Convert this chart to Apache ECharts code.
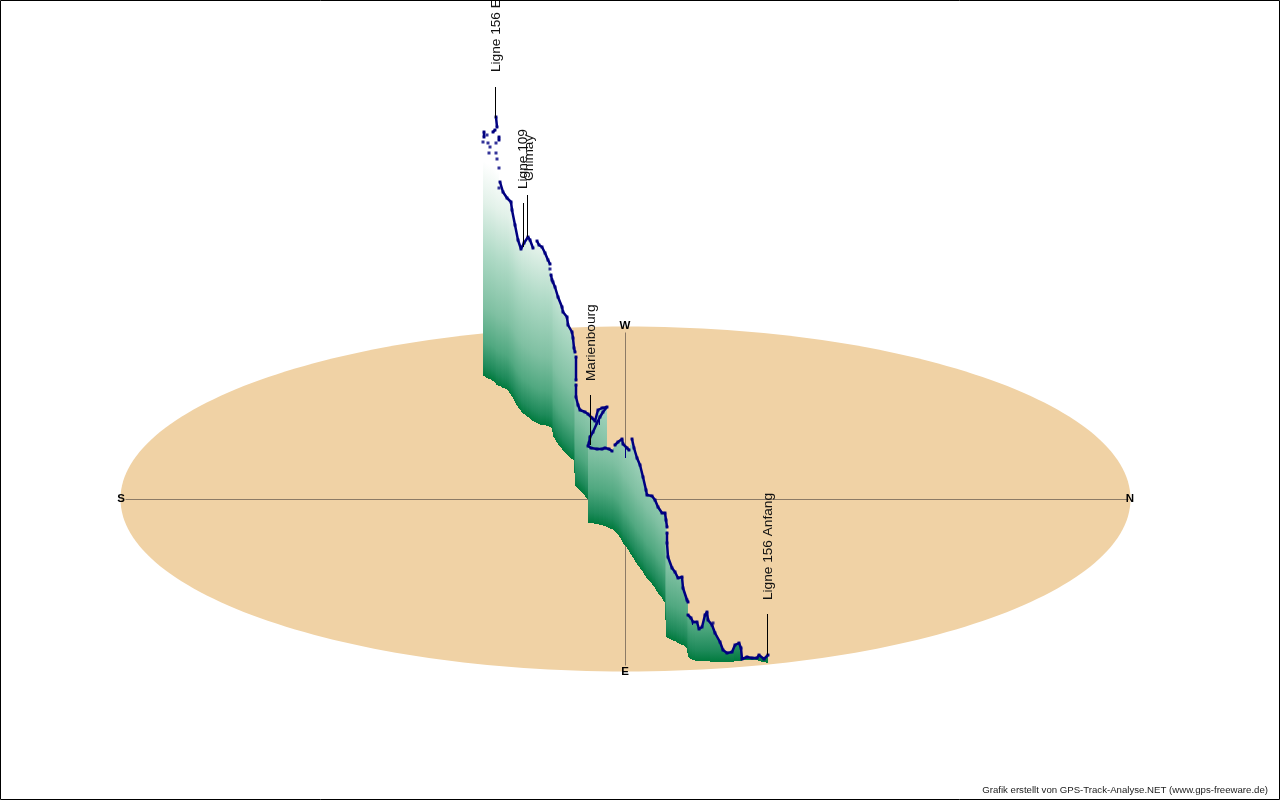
<!DOCTYPE html>
<html>
<head>
<meta charset="utf-8">
<style>html,body{margin:0;padding:0;background:#fff}#c{width:1280px;height:800px}</style>
<script src="https://cdn.jsdelivr.net/npm/echarts@6/dist/echarts.min.js"></script>
</head>
<body>
<div id="c"></div>
<script>
// Plane ellipse: centre and radii
const groundCentre = [625.5, 499];
const groundRadii = [505, 172.5];
// Compass axes and letters
const compassLines = [[125, 499, 1128, 499], [625, 332, 625, 665]];
const compassNames = ['S', 'N', 'W', 'E'];
const compassX = [121, 1130, 625, 625];
const compassY = [499, 499, 326, 672];
// Track (pen = 1 connects to the previous point)
const trackX = [483,484,484,487,488,489,490,493,495,496,497,499,499,496,496,497,499,499,500,503,507,511,512,515,518,521,524,528,530,533,537,539,542,545,548,550,550,551,552,553,555,558,562,563,567,568,572,573,574,575,576,576,576,576,578,580,585,588,592,595,598,602,607,603,600,597,593,590,589,588,591,597,602,605,609,612,615,618,622,623,627,629,632,634,637,640,643,646,647,652,655,658,662,665,666,667,667,667,668,672,675,678,682,683,687,688,688,691,693,697,699,702,705,707,708,712,713,715,720,723,727,732,735,739,741,742,747,752,757,759,764,768];
const trackY = [142,132,137,135,143,153,147,132,130,117,127,137,140,143,153,159,168,188,182,192,198,202,210,225,240,249,243,237,240,248,241,245,247,253,260,264,269,275,280,282,287,297,307,312,317,325,332,338,348,352,357,380,385,397,405,410,412,414,418,421,410,408,407,412,417,423,432,437,443,446,448,449,449,448,449,451,445,442,439,444,448,450,439,448,458,465,477,490,495,496,500,507,513,513,520,527,533,543,557,568,572,578,577,588,600,602,615,618,622,622,629,627,615,612,620,625,623,633,642,650,653,652,645,643,648,659,657,658,658,655,659,655];
const baseY = [375,376,376,378,378,379,379,381,382,383,384,385,385,385,385,385,386,386,386,388,389,395,396,402,407,411,414,417,418,421,423,424,425,425,426,427,427,427,428,436,439,444,449,450,454,455,459,459,460,485,486,486,486,486,488,490,496,500,504,510,514,518,520,518,514,510,506,503,501,523,523,524,525,526,528,529,531,534,541,543,548,551,556,559,564,568,572,577,578,584,588,593,598,603,637,637,637,637,638,640,641,643,645,645,648,657,657,659,660,661,661,661,661,661,661,662,662,662,662,662,662,662,661,661,661,660,660,660,660,661,662,663];
const penDown = [0,0,1,0,0,0,0,0,1,0,1,0,1,0,0,0,0,0,0,1,1,1,1,1,1,1,1,1,1,1,0,1,1,1,1,1,0,0,1,1,1,1,1,1,1,1,1,1,1,1,0,1,0,1,1,1,1,1,1,1,1,1,1,1,1,1,1,1,1,1,1,1,1,1,1,1,0,1,1,1,1,1,0,1,1,1,1,1,1,1,1,1,1,1,1,1,0,1,1,1,1,1,1,1,1,1,0,1,1,1,1,1,1,1,1,1,1,1,1,1,1,1,1,1,1,1,1,1,1,1,1,1];
// Short spurs hanging off the track
const spurX = [599, 625, 692];
const spurFrom = [420, 447, 620];
const spurTo = [425, 458, 625];
// Waypoint flags
const poleLabels = ['Ligne 156 Ende', 'Ligne 109', 'Chimay', 'Marienbourg', 'Ligne 156 Anfang'];
const poleX = [495, 523, 527, 590, 767];
const poleTop = [87, 203, 195, 395, 614];
const poleBottom = [118, 247, 237, 445, 655];
const labelX = [496, 523, 529, 591, 768];
const labelBottom = [72, 189, 181, 381, 600];
// Curtain shading
const shadeHeight = 215;
const shadeStops = [
  [0, 'rgb(0,122,61)'], [0.05, 'rgb(30,138,90)'], [0.16, 'rgb(80,168,128)'],
  [0.32, 'rgb(127,192,162)'], [0.58, 'rgb(175,218,198)'], [0.81, 'rgb(226,241,233)'], [1, 'rgb(255,255,255)']
].map(s => ({offset: s[0], color: s[1]}));

const FONT = '"Liberation Sans", Arial, sans-serif';
const chart = echarts.init(document.getElementById('c'), null, {renderer: 'canvas', width: 1280, height: 800});

const trackRows = trackX.map((x, i) => [x, trackY[i], baseY[i]]);
const lineData = [];
trackX.forEach((x, i) => {
  if (!penDown[i] && i > 0) lineData.push(['-', '-']);
  lineData.push([x, trackY[i]]);
});

function curtainItem(params, api) {
  const i = params.dataIndex;
  if (i === 0) return {type: 'group', children: []};
  const a = api.coord([api.value(0, i - 1), api.value(1, i - 1)]);
  const aBase = api.coord([api.value(0, i - 1), api.value(2, i - 1)])[1];
  const b = api.coord([api.value(0, i), api.value(1, i)]);
  const bBase = api.coord([api.value(0, i), api.value(2, i)])[1];
  if (a[0] === b[0]) return {type: 'group', children: []};
  const children = [];
  const from = Math.min(a[0], b[0]), to = Math.max(a[0], b[0]);
  const fade = api.size([0, shadeHeight])[1];
  for (let px = from; px < to; px++) {
    const t = (px + 0.5 - a[0]) / (b[0] - a[0]);
    const top = Math.round(a[1] + (b[1] - a[1]) * t);
    const base = Math.round(aBase + (bBase - aBase) * t);
    children.push({
      type: 'rect',
      shape: {x: px, y: top, width: 1, height: base - top},
      style: {fill: {type: 'linear', global: true, x: 0, y: base, x2: 0, y2: base - fade, colorStops: shadeStops}, stroke: null}
    });
  }
  return {type: 'group', children};
}

chart.setOption({
  animation: false,
  backgroundColor: '#fff',
  title: {
    text: 'Grafik erstellt von GPS-Track-Analyse.NET (www.gps-freeware.de)',
    right: 12, top: 785, padding: 0,
    textStyle: {fontFamily: FONT, fontSize: 9.65, fontWeight: 'normal', color: '#222'}
  },
  grid: {left: 0, top: 0, right: 0, bottom: 0, containLabel: false},
  xAxis: {type: 'value', min: 0, max: 1280, show: false},
  yAxis: {type: 'value', min: 0, max: 800, inverse: true, show: false},
  graphic: [{type: 'rect', silent: true, z: 100, shape: {x: 0.5, y: 0.5, width: 1279, height: 799}, style: {fill: null, stroke: '#000', lineWidth: 1}}],
  series: [
    {
      type: 'custom', coordinateSystem: 'cartesian2d', z: 1, silent: true,
      data: [[groundCentre[0], groundCentre[1], groundRadii[0], groundRadii[1]]],
      renderItem: (p, api) => {
        const c = api.coord([api.value(0), api.value(1)]);
        const s = api.size([api.value(2), api.value(3)]);
        return {type: 'ellipse', shape: {cx: c[0], cy: c[1], rx: s[0], ry: s[1]}, style: {fill: '#F0D2A5', stroke: null}};
      }
    },
    {
      type: 'custom', coordinateSystem: 'cartesian2d', z: 2, silent: true,
      data: compassLines,
      renderItem: (p, api) => {
        const a = api.coord([api.value(0), api.value(1)]);
        const b = api.coord([api.value(2), api.value(3)]);
        return {type: 'line', shape: {x1: a[0] + 0.5, y1: a[1] + 0.5, x2: b[0] + 0.5, y2: b[1] + 0.5}, style: {stroke: '#8c7b66', lineWidth: 1}};
      }
    },
    {
      type: 'custom', coordinateSystem: 'cartesian2d', z: 2, silent: true,
      data: compassX.map((x, i) => [x, compassY[i], compassNames[i]]),
      renderItem: (p, api) => {
        const c = api.coord([api.value(0), api.value(1)]);
        return {type: 'text', style: {x: c[0], y: c[1], text: compassNames[p.dataIndex], fill: '#000', font: 'bold 11.5px ' + FONT, textAlign: 'center', textVerticalAlign: 'middle'}};
      }
    },
    {
      type: 'custom', coordinateSystem: 'cartesian2d', z: 3, silent: true,
      data: trackRows, renderItem: curtainItem
    },
    {
      type: 'line', z: 4, silent: true, data: lineData, showSymbol: false, connectNulls: false,
      lineStyle: {color: '#000080', width: 2.5, cap: 'round', join: 'round'}
    },
    {
      type: 'scatter', z: 4, silent: true, data: trackX.map((x, i) => [x, trackY[i]]),
      symbol: 'rect', symbolSize: 3, itemStyle: {color: '#000080'}
    },
    {
      type: 'custom', coordinateSystem: 'cartesian2d', z: 4, silent: true,
      data: spurX.map((x, i) => [x, spurFrom[i], spurTo[i]]),
      renderItem: (p, api) => {
        const a = api.coord([api.value(0), api.value(1)]);
        const b = api.coord([api.value(0), api.value(2)]);
        return {type: 'line', shape: {x1: a[0] + 0.5, y1: a[1], x2: b[0] + 0.5, y2: b[1]}, style: {stroke: '#000080', lineWidth: 1}};
      }
    },
    {
      type: 'custom', coordinateSystem: 'cartesian2d', z: 5, silent: true,
      data: poleX.map((x, i) => [x, poleTop[i], poleBottom[i], labelX[i], labelBottom[i]]),
      renderItem: (p, api) => {
        const a = api.coord([api.value(0), api.value(1)]);
        const b = api.coord([api.value(0), api.value(2)]);
        const l = api.coord([api.value(3), api.value(4)]);
        return {type: 'group', children: [
          {type: 'line', shape: {x1: a[0] + 0.5, y1: a[1], x2: b[0] + 0.5, y2: b[1]}, style: {stroke: '#000', lineWidth: 1}},
          {type: 'text', x: l[0], y: l[1], rotation: Math.PI / 2, scaleX: 1.05,
           style: {x: 0, y: 0, text: poleLabels[p.dataIndex], fill: '#111', font: '13px ' + FONT, textAlign: 'left', textVerticalAlign: 'middle'}}
        ]};
      }
    }
  ]
});
</script>
</body>
</html>
